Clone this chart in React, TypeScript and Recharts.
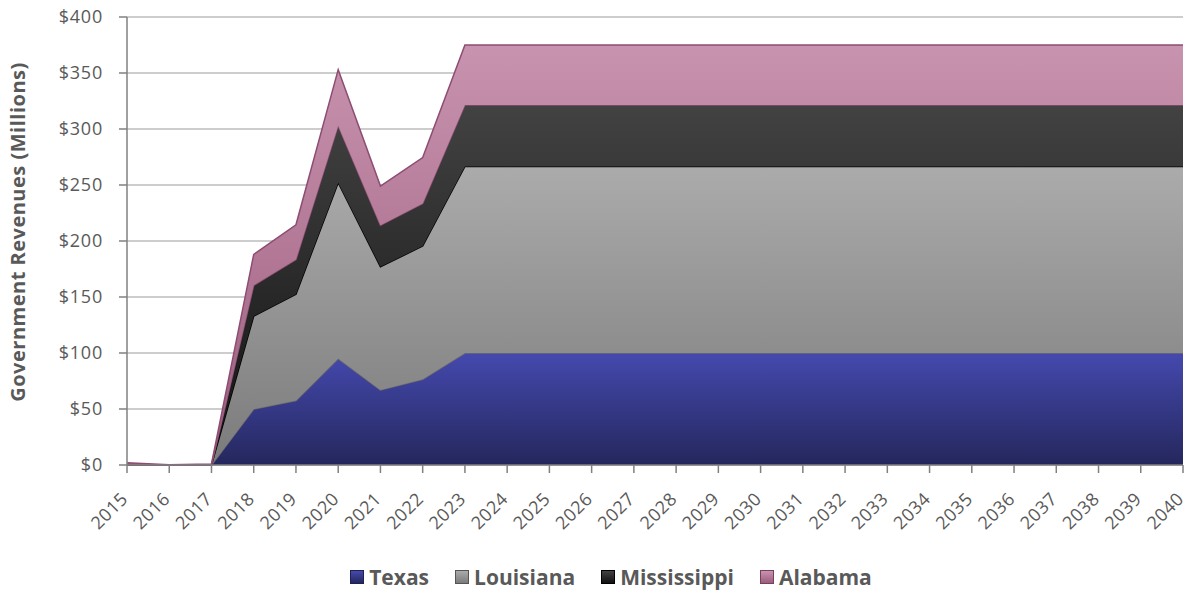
import React from 'react';
import { AreaChart, Area, XAxis, YAxis, CartesianGrid } from 'recharts';

// Revenues by state, in millions of dollars (not cumulative)
const years = [
  '2015', '2016', '2017', '2018', '2019', '2020', '2021', '2022', '2023', '2024', '2025', '2026', '2027',
  '2028', '2029', '2030', '2031', '2032', '2033', '2034', '2035', '2036', '2037', '2038', '2039', '2040',
];
const texas = [0, 0, 0, 50, 57.5, 95, 67, 76.5, 100, 100, 100, 100, 100, 100, 100, 100, 100, 100, 100, 100, 100, 100, 100, 100, 100, 100];
const louisiana = [0, 0, 0, 83, 95, 157, 110, 119, 166.5, 166.5, 166.5, 166.5, 166.5, 166.5, 166.5, 166.5, 166.5, 166.5, 166.5, 166.5, 166.5, 166.5, 166.5, 166.5, 166.5, 166.5];
const mississippi = [0, 0, 0, 27.5, 31, 51, 37, 38, 55, 55, 55, 55, 55, 55, 55, 55, 55, 55, 55, 55, 55, 55, 55, 55, 55, 55];
const alabama = [2, 0.3, 1, 27.5, 31, 50, 35, 41, 53.5, 53.5, 53.5, 53.5, 53.5, 53.5, 53.5, 53.5, 53.5, 53.5, 53.5, 53.5, 53.5, 53.5, 53.5, 53.5, 53.5, 53.5];
const yTicks = [0, 50, 100, 150, 200, 250, 300, 350, 400];

const data = years.map((year, i) => ({
  year,
  Texas: texas[i],
  Louisiana: louisiana[i],
  Mississippi: mississippi[i],
  Alabama: alabama[i],
}));

const FONT = '"Open Sans", sans-serif';
const TEXT = '#595959';

const series = [
  { key: 'Texas', id: 'gTexas', top: '#4549ae', bottom: '#24275c', stroke: '#6b6b6b', box: '#1f2250' },
  { key: 'Louisiana', id: 'gLouisiana', top: '#ababab', bottom: '#7b7b7b', stroke: '#000000', box: '#555555' },
  { key: 'Mississippi', id: 'gMississippi', top: '#424242', bottom: '#111111', stroke: '#8c4d72', box: '#000000' },
  { key: 'Alabama', id: 'gAlabama', top: '#c893ae', bottom: '#9c5d7e', stroke: '#8c4d72', box: '#7a3f60' },
];

const XTick = (props: any) => {
  const { x, y, payload } = props;
  const ax = x + 2;
  const ay = y + 25;
  return (
    <text
      x={ax}
      y={ay}
      transform={`rotate(-45 ${ax} ${ay})`}
      textAnchor="end"
      fontFamily={FONT}
      fontSize={18}
      letterSpacing={0.5}
      fill={TEXT}
    >
      {payload.value}
    </text>
  );
};

const YLabel = () => (
  <text
    x={20}
    y={232}
    transform="rotate(-90 20 232)"
    textAnchor="middle"
    dominantBaseline="middle"
    fontFamily={FONT}
    fontSize={20}
    letterSpacing={0.5}
    fontWeight="bold"
    fill={TEXT}
  >
    Government Revenues (Millions)
  </text>
);

const App = () => {
  return (
    <div style={{ position: 'absolute', left: 0, top: 0, width: 1189, height: 590, background: '#fff' }}>
      <AreaChart width={1189} height={590} data={data} margin={{ top: 17, right: 6, left: 0, bottom: 65 }}>
        <defs>
          {series.map((s) => (
            <linearGradient key={s.id} id={s.id} x1="0" y1="0" x2="0" y2="1">
              <stop offset="0%" stopColor={s.top} />
              <stop offset="100%" stopColor={s.bottom} />
            </linearGradient>
          ))}
        </defs>
        <CartesianGrid vertical={false} stroke="#bdbdbd" strokeWidth={1.5} />
        <XAxis
          dataKey="year"
          height={60}
          interval={0}
          tick={<XTick />}
          tickSize={8}
          tickMargin={2}
          axisLine={{ stroke: '#808080', strokeWidth: 1.5 }}
          tickLine={{ stroke: '#808080', strokeWidth: 1.5 }}
        />
        <YAxis
          width={127}
          domain={[0, 400]}
          ticks={yTicks}
          interval={0}
          tickFormatter={(v) => `$${v}`}
          tickSize={8}
          tickMargin={16}
          tick={{ fill: TEXT, fontSize: 18, fontFamily: FONT, letterSpacing: 0.8 }}
          axisLine={{ stroke: '#808080', strokeWidth: 1.5 }}
          tickLine={{ stroke: '#808080', strokeWidth: 1.5 }}
          label={{ content: () => <YLabel /> }}
        />
        {series.map((s) => (
          <Area
            key={s.key}
            type="linear"
            dataKey={s.key}
            stackId="rev"
            stroke={s.stroke}
            strokeWidth={1.5}
            fill={`url(#${s.id})`}
            fillOpacity={1}
            isAnimationActive={false}
            dot={false}
            activeDot={false}
          />
        ))}
      </AreaChart>
      <div
        style={{
          position: 'absolute',
          left: 0,
          top: 563,
          width: 1222,
          display: 'flex',
          justifyContent: 'center',
          alignItems: 'center',
          fontFamily: FONT,
          fontWeight: 'bold',
          fontSize: 21,
          color: TEXT,
        }}
      >
        {series.map((s) => (
          <div key={s.key} style={{ display: 'flex', alignItems: 'center', margin: '0 13px' }}>
            <span
              style={{
                display: 'inline-block',
                width: 12,
                height: 12,
                border: `1px solid ${s.box}`,
                background: `linear-gradient(${s.top}, ${s.bottom})`,
                marginRight: 5,
              }}
            />
            <span>{s.key}</span>
          </div>
        ))}
      </div>
    </div>
  );
};

export default App;
